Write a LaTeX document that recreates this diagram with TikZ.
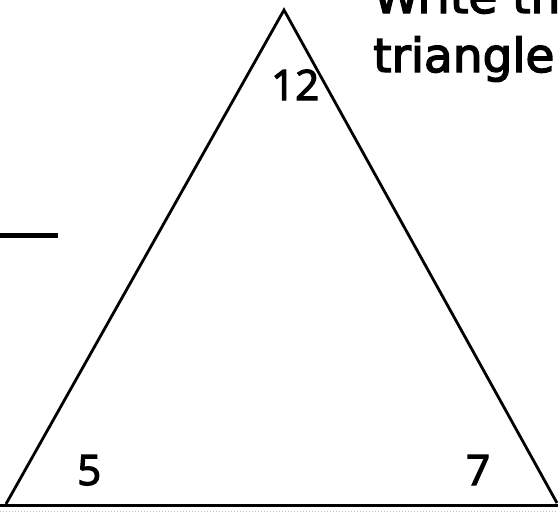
\documentclass[tikz,border=0pt]{standalone}
\usepackage{fontspec}
\newfontfamily\numfont{Open Sans}[FakeBold=3]
\newfontfamily\titlefont{DejaVu Sans}[FakeBold=3]
\begin{document}
\begin{tikzpicture}[x=1pt,y=-1pt,
  edge/.style={line width=2.8pt,line join=miter},
  num/.style={inner sep=0pt,anchor=base west,font=\numfont\fontsize{42}{42}\selectfont},
  title/.style={inner sep=0pt,anchor=base west,font=\titlefont\fontsize{47}{47}\selectfont}]
\useasboundingbox (0,0) rectangle (558,514);
\clip (0,0) rectangle (558,514);
\coordinate (A) at (284,10);
\coordinate (B) at (6,504);
\coordinate (C) at (557,503);
\coordinate (L) at (0,235);
\coordinate (R) at (58,235);
\coordinate (BL) at (0,505);
\coordinate (BR) at (558,505);
\draw[edge] (B) -- (A) -- (C);
\draw[line width=3pt] (BL) -- (BR);
\draw[line width=5pt] (L) -- (R);
\draw[gray!50,line width=1pt,dotted] (0,511) -- (558,511);
\node[title] (t1) at (373,13) {Write th};
\node[title] (t2) at (373,72) {triangle};
\node[num] (n12) at (271,100) {12};
\node[num] (n5) at (77,485) {5};
\node[num] (n7) at (466,485) {7};
\end{tikzpicture}
\end{document}
